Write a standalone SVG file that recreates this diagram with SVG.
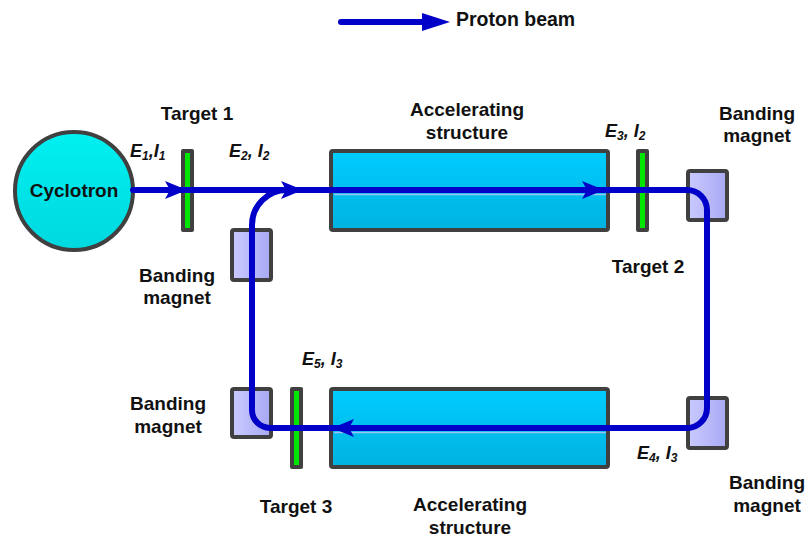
<svg xmlns="http://www.w3.org/2000/svg" width="807" height="540" viewBox="0 0 807 540">
  <defs>
    <linearGradient id="gCyc" x1="0" y1="0" x2="0" y2="1">
      <stop offset="0" stop-color="#00f0f0"/>
      <stop offset="1" stop-color="#00d8e0"/>
    </linearGradient>
    <linearGradient id="gAcc" x1="0" y1="0" x2="0" y2="1">
      <stop offset="0" stop-color="#00ccff"/>
      <stop offset="1" stop-color="#00b2e0"/>
    </linearGradient>
    <linearGradient id="gMag" x1="0" y1="0" x2="1" y2="0">
      <stop offset="0" stop-color="#cacaff"/>
      <stop offset="1" stop-color="#a8a8f4"/>
    </linearGradient>
    <marker id="arr" markerUnits="userSpaceOnUse" markerWidth="24" markerHeight="18" refX="22" refY="9" orient="auto">
      <path d="M0,0 L22,9 L0,18 L5,9 Z" fill="#0000c8"/>
    </marker>
  </defs>
  <style>
    text { font-family: "Liberation Sans", Arial, sans-serif; font-weight: bold; fill: #111; }
    .lbl { font-size: 19px; text-anchor: middle; }
    .el { font-size: 18px; font-style: italic; }
    .sub { font-size: 12px; }
    .frame { stroke: #404040; stroke-width: 4; }
    .acc { fill: url(#gAcc); }
    .mag { fill: url(#gMag); }
    .tgt { fill: #404040; }
    .tgtc { fill: #00e600; }
    .beam { fill: none; stroke: #0000c8; stroke-width: 6; stroke-linecap: round; stroke-linejoin: round; }
    .hl { stroke: #9cc4ee; stroke-width: 1.5; }
  </style>

  <g id="legend">
    <line x1="341" y1="22" x2="426" y2="22" class="beam"/>
    <path d="M422,13 L450,22 L422,31 Z" fill="#0000c8"/>
    <text x="456" y="26" style="font-size:19.5px">Proton beam</text>
  </g>

  <g id="cyclotron">
    <circle cx="74" cy="191" r="59" fill="url(#gCyc)" class="frame"/>
    <text x="74" y="197" class="lbl">Cyclotron</text>
  </g>

  <g id="accel-top">
    <rect x="331" y="151" width="277" height="79" rx="2" class="acc frame"/>
    <line x1="334" y1="194.5" x2="606" y2="194.5" class="hl"/>
    <text x="467" y="116" class="lbl">Accelerating</text>
    <text x="467" y="139" class="lbl">structure</text>
  </g>

  <g id="accel-bottom">
    <rect x="331" y="389" width="277" height="78" rx="2" class="acc frame"/>
    <line x1="334" y1="432.5" x2="606" y2="432.5" class="hl"/>
    <text x="470" y="511" class="lbl">Accelerating</text>
    <text x="470" y="534" class="lbl">structure</text>
  </g>

  <g id="target1">
    <rect x="181" y="149" width="13" height="83" rx="2" class="tgt"/>
    <rect x="185" y="153" width="5" height="75" class="tgtc"/>
    <text x="197" y="120" class="lbl">Target 1</text>
  </g>

  <g id="target2">
    <rect x="636" y="149" width="13" height="83" rx="2" class="tgt"/>
    <rect x="640" y="153" width="5" height="75" class="tgtc"/>
    <text x="648" y="273" class="lbl">Target 2</text>
  </g>

  <g id="target3">
    <rect x="290" y="387" width="13" height="82" rx="2" class="tgt"/>
    <rect x="294" y="391" width="5" height="74" class="tgtc"/>
    <text x="296" y="513" class="lbl">Target 3</text>
  </g>

  <g id="magnet-left-top">
    <rect x="232" y="230" width="39" height="50" rx="2" class="mag frame"/>
    <text x="177" y="282" class="lbl">Banding</text>
    <text x="177" y="304" class="lbl">magnet</text>
  </g>

  <g id="magnet-right-top">
    <rect x="688" y="171" width="39" height="49" rx="2" class="mag frame"/>
    <text x="757" y="120" class="lbl">Banding</text>
    <text x="757" y="142" class="lbl">magnet</text>
  </g>

  <g id="magnet-left-bottom">
    <rect x="232" y="389" width="39" height="48" rx="2" class="mag frame"/>
    <text x="168" y="410" class="lbl">Banding</text>
    <text x="168" y="433" class="lbl">magnet</text>
  </g>

  <g id="magnet-right-bottom">
    <rect x="688" y="398" width="39" height="50" rx="2" class="mag frame"/>
    <text x="767" y="489" class="lbl">Banding</text>
    <text x="767" y="512" class="lbl">magnet</text>
  </g>

  <g id="connectors">
    <path class="beam" d="M133,190 H187" marker-end="url(#arr)"/>
    <path class="beam" d="M187,190 H687 A20,20 0 0 1 707,210 V408 A20,20 0 0 1 687,428 H270 A18,18 0 0 1 252,410 V225 A35,35 0 0 1 287,190 H303"/>
    <path class="beam" d="M270,190 H303" marker-end="url(#arr)"/>
    <path class="beam" d="M560,190 H604" marker-end="url(#arr)"/>
    <path class="beam" d="M380,428 H332" marker-end="url(#arr)"/>
  </g>

  <g id="labels">
    <text x="130" y="157" class="el">E<tspan class="sub" dy="3">1</tspan><tspan dy="-3">,I</tspan><tspan class="sub" dy="3">1</tspan></text>
    <text x="229" y="157" class="el">E<tspan class="sub" dy="3">2</tspan><tspan dy="-3">, I</tspan><tspan class="sub" dy="3">2</tspan></text>
    <text x="605" y="137" class="el">E<tspan class="sub" dy="3">3</tspan><tspan dy="-3">, I</tspan><tspan class="sub" dy="3">2</tspan></text>
    <text x="637" y="459" class="el">E<tspan class="sub" dy="3">4</tspan><tspan dy="-3">, I</tspan><tspan class="sub" dy="3">3</tspan></text>
    <text x="302" y="365" class="el">E<tspan class="sub" dy="3">5</tspan><tspan dy="-3">, I</tspan><tspan class="sub" dy="3">3</tspan></text>
  </g>
</svg>
